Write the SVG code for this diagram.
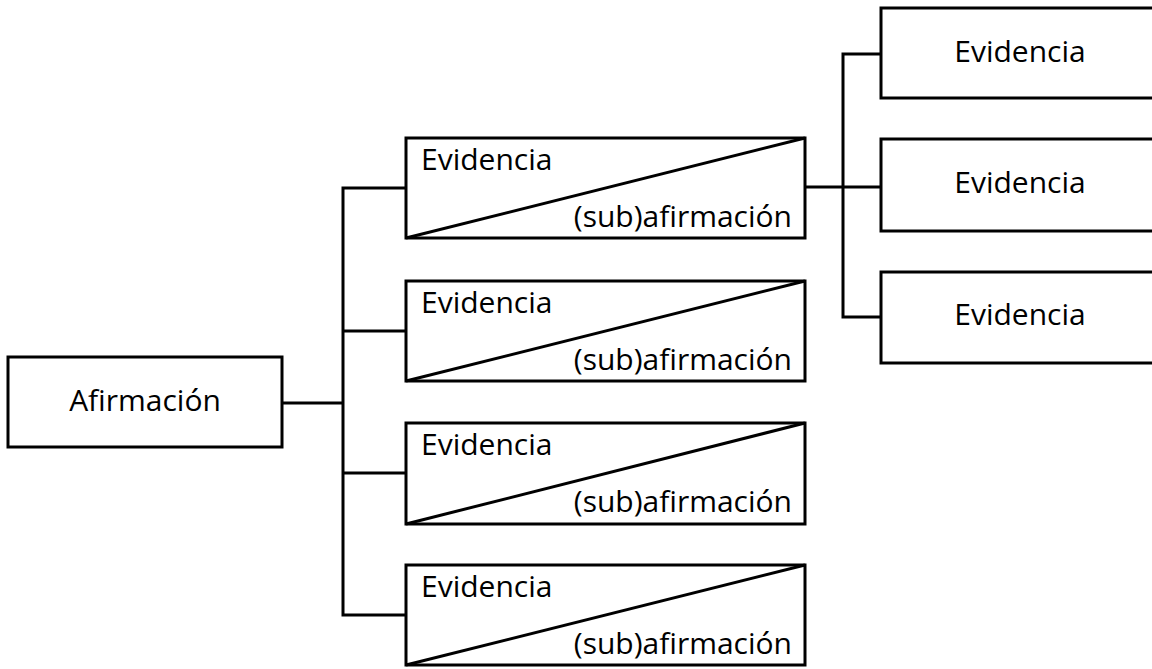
<svg xmlns="http://www.w3.org/2000/svg" width="1152" height="669" viewBox="0 0 1152 669">
<style>
.box{fill:#fff;stroke:#000;stroke-width:3}
.diag{stroke:#000;stroke-width:3;fill:none}
.conn{stroke:#000;stroke-width:3;fill:none;stroke-linejoin:miter}
.t{font-family:"Open Sans","Noto Sans","Liberation Sans",sans-serif;font-size:30px;fill:#000}
.c{text-anchor:middle}
.e{text-anchor:end}
</style>
<rect width="1152" height="669" fill="#fff"/>
<g id="connectors">
<path class="conn" d="M282 403 H343"/>
<path class="conn" d="M406 188 H343 V615 H406"/>
<path class="conn" d="M343 331 H406"/>
<path class="conn" d="M343 473 H406"/>
<path class="conn" d="M805 187 H881"/>
<path class="conn" d="M881 54 H843 V317 H881"/>
</g>
<g id="afirmacion">
<rect class="box" x="8" y="357" width="274" height="90"/>
<text class="t c" x="145" y="411">Afirmación</text>
</g>
<g id="ev1">
<rect class="box" x="406" y="138" width="399" height="100"/>
<line class="diag" x1="406" y1="238" x2="805" y2="138"/>
<text class="t" x="421" y="170">Evidencia</text>
<text class="t e" x="792" y="227">(sub)afirmación</text>
</g>
<g id="ev2">
<rect class="box" x="406" y="281" width="399" height="100"/>
<line class="diag" x1="406" y1="381" x2="805" y2="281"/>
<text class="t" x="421" y="313">Evidencia</text>
<text class="t e" x="792" y="370">(sub)afirmación</text>
</g>
<g id="ev3">
<rect class="box" x="406" y="423" width="399" height="101"/>
<line class="diag" x1="406" y1="524" x2="805" y2="423"/>
<text class="t" x="421" y="455">Evidencia</text>
<text class="t e" x="792" y="512">(sub)afirmación</text>
</g>
<g id="ev4">
<rect class="box" x="406" y="565" width="399" height="100"/>
<line class="diag" x1="406" y1="665" x2="805" y2="565"/>
<text class="t" x="421" y="597">Evidencia</text>
<text class="t e" x="792" y="654">(sub)afirmación</text>
</g>
<g id="r1">
<rect class="box" x="881" y="8" width="290" height="90"/>
<text class="t c" x="1020" y="62">Evidencia</text>
</g>
<g id="r2">
<rect class="box" x="881" y="139" width="290" height="92"/>
<text class="t c" x="1020" y="193">Evidencia</text>
</g>
<g id="r3">
<rect class="box" x="881" y="272" width="290" height="91"/>
<text class="t c" x="1020" y="325">Evidencia</text>
</g>
</svg>
